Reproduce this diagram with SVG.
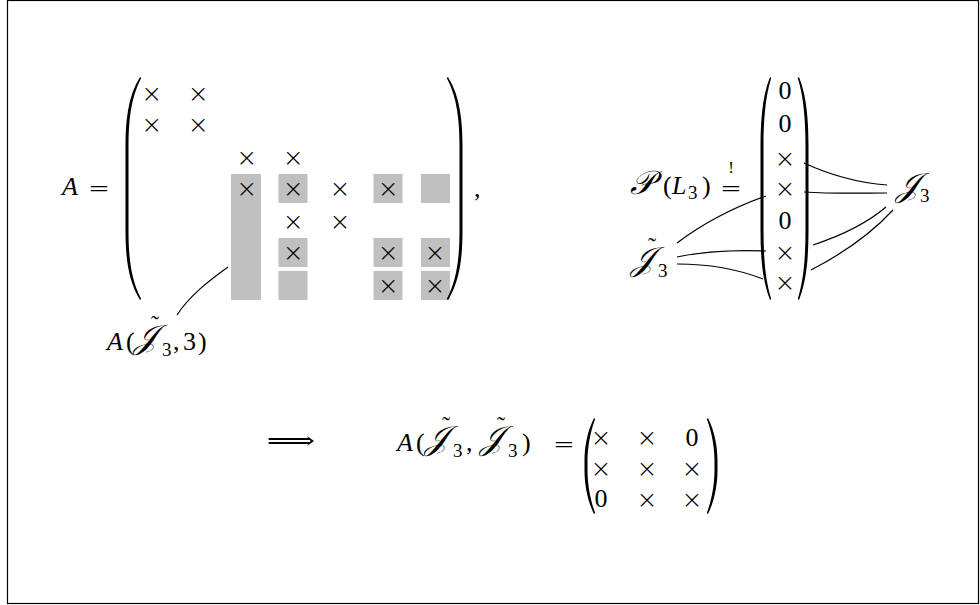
<svg xmlns="http://www.w3.org/2000/svg" width="980" height="605" viewBox="0 0 980 605">
<style>
.t{font-family:"Liberation Serif","DejaVu Serif",serif;font-size:26px;fill:#000}
.i{font-style:italic}
.x{font-family:"DejaVu Sans","Liberation Sans",sans-serif;font-weight:200;font-size:25px;fill:#000;text-anchor:middle}
.z{font-family:"Liberation Serif","DejaVu Serif",serif;font-size:26px;fill:#000;text-anchor:middle}
.op{font-family:"DejaVu Sans","Liberation Sans",sans-serif;font-weight:200;font-size:26px;fill:#000;text-anchor:middle}
.s{font-family:"DejaVu Serif","Liberation Serif",serif;font-style:italic;font-size:33px}
.sub{font-size:19px;font-style:normal}
.tl{font-size:24px;font-style:normal}
.g{fill:#c0c0c0}
.p{fill:#000}
.c{fill:none;stroke:#000;stroke-width:1.2}
</style>
<rect x="7.5" y="0.5" width="971" height="603" fill="#fff" stroke="#000" stroke-width="1.2"/>

<g id="matrix-A">
  <text class="t i" x="62" y="195">A</text>
  <text class="op" x="99" y="197">=</text>
  <rect class="g" x="231" y="174" width="30" height="126"/>
  <rect class="g" x="278.5" y="174" width="29" height="29"/>
  <rect class="g" x="278.5" y="238" width="29" height="29"/>
  <rect class="g" x="278.5" y="271" width="29" height="29"/>
  <rect class="g" x="373.5" y="174" width="29" height="29"/>
  <rect class="g" x="373.5" y="238" width="29" height="29"/>
  <rect class="g" x="373.5" y="271" width="29" height="29"/>
  <rect class="g" x="421" y="174" width="29" height="29"/>
  <rect class="g" x="421" y="238" width="29" height="29"/>
  <rect class="g" x="421" y="271" width="29" height="29"/>
  <path class="p" d="M140,77 C127.5,97 125.5,122 125.5,147 L125.5,230 C125.5,255 127.5,280 140,300 L141.2,299 C130.5,279 128.5,255 128.5,230 L128.5,147 C128.5,122 130.5,98 141.2,78 Z"/>
  <path class="p" d="M448,77 C460.5,97 462.5,122 462.5,147 L462.5,230 C462.5,255 460.5,280 448,300 L446.8,299 C457.5,279 459.5,255 459.5,230 L459.5,147 C459.5,122 457.5,98 446.8,78 Z"/>
  <text class="x" x="151.7" y="101.5">×</text><text class="x" x="198.3" y="101.5">×</text>
  <text class="x" x="151.7" y="132.5">×</text><text class="x" x="198.3" y="132.5">×</text>
  <text class="x" x="246.7" y="165.5">×</text><text class="x" x="293.3" y="165.5">×</text>
  <text class="x" x="246.7" y="197">×</text><text class="x" x="293.3" y="197">×</text><text class="x" x="340" y="197">×</text><text class="x" x="388.3" y="197">×</text>
  <text class="x" x="293.3" y="229.5">×</text><text class="x" x="340" y="229.5">×</text>
  <text class="x" x="293.3" y="260.5">×</text><text class="x" x="388.3" y="260.5">×</text><text class="x" x="435" y="260.5">×</text>
  <text class="x" x="388.3" y="293.5">×</text><text class="x" x="435" y="293.5">×</text>
  <text class="t" x="474" y="197">,</text>
</g>

<g id="label-A-J3-3">
  <text class="t"><tspan class="i" x="107" y="350">A</tspan><tspan x="126" y="350">(</tspan><tspan class="s" x="134" y="348">𝒥</tspan><tspan class="tl" x="151" y="332">˜</tspan><tspan class="sub" x="162" y="356">3</tspan><tspan x="173" y="350">,</tspan><tspan x="183" y="350">3</tspan><tspan x="198" y="350">)</tspan></text>
</g>

<g id="vector-PL3">
  <text class="t"><tspan class="s" x="630" y="194">𝒫</tspan><tspan x="663" y="194">(</tspan><tspan class="i" x="672" y="194">L</tspan><tspan class="sub" x="688" y="199">3</tspan><tspan x="702" y="194">)</tspan></text>
  <text class="op" x="731" y="197">=</text>
  <text class="t" x="731" y="173" style="text-anchor:middle;font-size:17px">!</text>
  <path class="p" d="M770,77 C762,97 760.5,122 760.5,147 L760.5,230 C760.5,255 762,280 770,300 L771.2,299 C765,279 763.5,255 763.5,230 L763.5,147 C763.5,122 765,98 771.2,78 Z"/>
  <path class="p" d="M799,77 C807,97 808.5,122 808.5,147 L808.5,230 C808.5,255 807,280 799,300 L797.8,299 C804,279 805.5,255 805.5,230 L805.5,147 C805.5,122 804,98 797.8,78 Z"/>
  <text class="z" x="785" y="99">0</text>
  <text class="z" x="785" y="132">0</text>
  <text class="x" x="785" y="166.5">×</text>
  <text class="x" x="785" y="196.5">×</text>
  <text class="z" x="785" y="229">0</text>
  <text class="x" x="785" y="260.5">×</text>
  <text class="x" x="785" y="290.5">×</text>
</g>

<g id="label-J3">
  <text class="t"><tspan class="s" x="896" y="196">𝒥</tspan><tspan class="sub" x="920" y="202">3</tspan></text>
</g>

<g id="label-J3-tilde">
  <text class="t"><tspan class="s" x="631" y="270">𝒥</tspan><tspan class="tl" x="648" y="254">˜</tspan><tspan class="sub" x="658" y="277">3</tspan></text>
</g>

<g id="result">
  <text class="z" x="0" y="0" transform="translate(291,449) scale(1.35,1)" style="font-family:'DejaVu Serif',serif;font-size:25px">⟹</text>
  <text class="t"><tspan class="i" x="397" y="451">A</tspan><tspan x="416" y="451">(</tspan><tspan class="s" x="425" y="449">𝒥</tspan><tspan class="tl" x="442" y="433">˜</tspan><tspan class="sub" x="453" y="457">3</tspan><tspan x="466" y="451">,</tspan><tspan class="s" x="480" y="449">𝒥</tspan><tspan class="tl" x="497" y="433">˜</tspan><tspan class="sub" x="508" y="457">3</tspan><tspan x="522" y="451">)</tspan></text>
  <text class="op" x="564" y="453">=</text>
  <path class="p" d="M594,418 C586.5,433 584.5,449 584.5,461 L584.5,470 C584.5,482 586.5,499 594,514 L595.2,513 C589.5,498 587.5,482 587.5,470 L587.5,461 C587.5,449 589.5,434 595.2,419 Z"/>
  <path class="p" d="M708,418 C715.5,433 717.5,449 717.5,461 L717.5,470 C717.5,482 715.5,499 708,514 L706.8,513 C712.5,498 714.5,482 714.5,470 L714.5,461 C714.5,449 712.5,434 706.8,419 Z"/>
  <text class="x" x="601" y="445.5">×</text><text class="x" x="647" y="445.5">×</text><text class="z" x="692" y="445.5">0</text>
  <text class="x" x="601" y="477">×</text><text class="x" x="647" y="477">×</text><text class="x" x="692" y="477">×</text>
  <text class="z" x="601" y="507">0</text><text class="x" x="647" y="507.5">×</text><text class="x" x="692" y="507.5">×</text>
</g>

<g id="connectors">
  <path class="c" d="M228,267 C210,280 190,295 177,315"/>
  <path class="c" d="M677,243 C705,222 735,207 766,196"/>
  <path class="c" d="M677,257 C705,251 740,250 766,251"/>
  <path class="c" d="M677,264 C710,264 740,270 763,279"/>
  <path class="c" d="M804,163 C830,175 860,183 887,185"/>
  <path class="c" d="M804,192 C835,194 865,193 887,193"/>
  <path class="c" d="M813,245 C840,236 865,225 886,207"/>
  <path class="c" d="M811,270 C840,255 870,235 893,210"/>
</g>
</svg>
